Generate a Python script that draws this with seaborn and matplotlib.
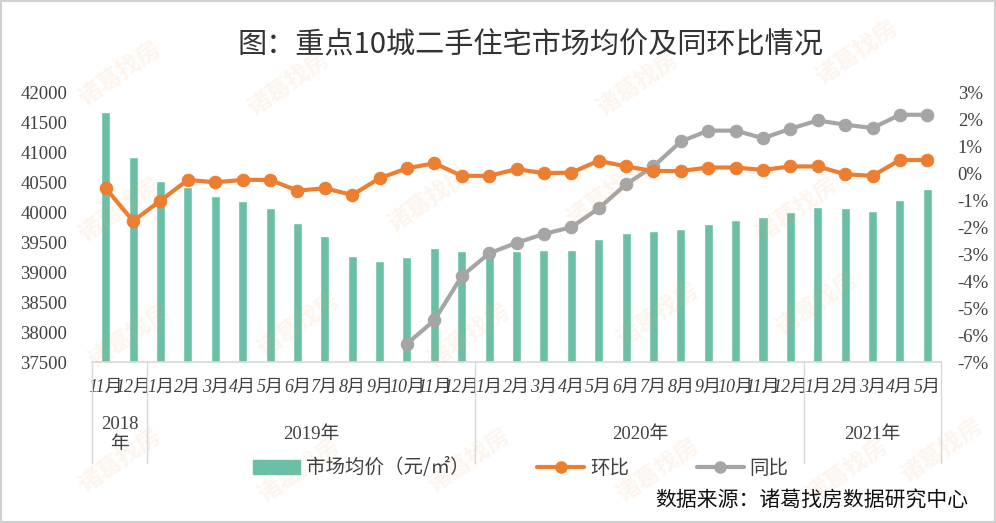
import numpy as np
import pandas as pd
import matplotlib
matplotlib.use("Agg")
import matplotlib.pyplot as plt
import seaborn as sns

# ---------------- data ----------------
months = ["11月", "12月",
          "1月", "2月", "3月", "4月", "5月", "6月", "7月", "8月", "9月", "10月", "11月", "12月",
          "1月", "2月", "3月", "4月", "5月", "6月", "7月", "8月", "9月", "10月", "11月", "12月",
          "1月", "2月", "3月", "4月", "5月"]
year_labels = ["2018\n年", "2019年", "2020年", "2021年"]
year_counts = [2, 12, 12, 5]

price = [41690, 40935, 40535, 40425, 40285, 40185, 40080, 39830, 39615, 39280, 39195, 39265,
         39415, 39365, 39380, 39365, 39375, 39375, 39550, 39660, 39695, 39725, 39810, 39875,
         39930, 40010, 40100, 40080, 40025, 40215, 40395]
mom = [-0.54, -1.76, -1.00, -0.23, -0.32, -0.23, -0.23, -0.63, -0.54, -0.79, -0.17, 0.20,
       0.39, -0.08, -0.08, 0.17, 0.02, 0.04, 0.48, 0.27, 0.10, 0.10, 0.23, 0.23,
       0.14, 0.27, 0.27, -0.02, -0.08, 0.51, 0.51]
yoy = [np.nan] * 11 + [-6.32, -5.45, -3.81, -2.96, -2.57, -2.24, -1.99, -1.29, -0.39, 0.27,
                       1.20, 1.60, 1.60, 1.32, 1.67, 1.98, 1.82, 1.70, 2.19, 2.19]

title = "图：重点10城二手住宅市场均价及同环比情况"
source = "数据来源：诸葛找房数据研究中心"
legend_labels = ["市场均价（元/㎡）", "环比", "同比"]

# ---------------- style ----------------
sns.set_theme(style="white")
plt.rcParams["font.family"] = ["Liberation Serif", "Noto Sans CJK SC", "DejaVu Sans"]
plt.rcParams["axes.unicode_minus"] = False

BAR = "#6BBFA7"
ORANGE = "#ED7D31"
GRAY = "#A5A5A5"
TXT = "#404040"

df = pd.DataFrame({"idx": np.arange(len(price)), "month": months,
                   "price": price, "mom": mom, "yoy": yoy})

fig = plt.figure(figsize=(9.96, 5.23), dpi=100)
fig.patch.set_facecolor("white")
ax = fig.add_axes([0.0924, 0.3078, 0.8524, 0.5144])

# watermarks
wm_pos = [(0.12, 0.86), (0.29, 0.84), (0.64, 0.84), (0.86, 0.90),
          (0.12, 0.60), (0.43, 0.62), (0.61, 0.63), (0.80, 0.60),
          (0.13, 0.36), (0.30, 0.38), (0.47, 0.36), (0.66, 0.40), (0.82, 0.42),
          (0.12, 0.12), (0.30, 0.10), (0.47, 0.12), (0.66, 0.10), (0.85, 0.10), (0.945, 0.14)]
for (wx, wy) in wm_pos:
    fig.text(wx, wy, "诸葛找房", fontsize=17, color="#F4A460", alpha=0.11,
             rotation=35, ha="center", va="center", family=["Noto Sans CJK SC"],
             fontweight="bold", zorder=0)

sns.barplot(data=df, x="idx", y="price", ax=ax, color=BAR, width=0.33,
            saturation=1, native_scale=True, zorder=2)
ax.set_ylim(37500, 42000)
ax.set_yticks(np.arange(37500, 42001, 500))
ax.set_xlim(-0.5, len(price) - 0.5)
ax.set_xlabel("")
ax.set_ylabel("")
ax.set_facecolor("none")
for s in ["top", "left", "right"]:
    ax.spines[s].set_visible(False)
ax.spines["bottom"].set_color("#D9D9D9")
ax.tick_params(axis="y", labelsize=13.5, colors=TXT, length=0, pad=18)
ax.set_xticks(df["idx"])
ax.set_xticklabels(months, fontsize=13, color=TXT, style="italic")
ax.tick_params(axis="x", length=0, pad=12)

ax2 = ax.twinx()
sns.lineplot(data=df, x="idx", y="mom", ax=ax2, color=ORANGE, linewidth=3,
             marker="o", markersize=9, markeredgecolor=ORANGE, zorder=4)
sns.lineplot(data=df, x="idx", y="yoy", ax=ax2, color=GRAY, linewidth=3,
             marker="o", markersize=9, markeredgecolor=GRAY, zorder=3)
ax2.set_ylim(-7, 3)
ax2.set_yticks(np.arange(-7, 3.1, 1))
ax2.set_yticklabels([f"{v:.0f}%" for v in np.arange(-7, 3.1, 1)])
ax2.tick_params(axis="y", labelsize=13.5, colors=TXT, length=0, pad=12)
ax2.set_xlabel("")
ax2.set_ylabel("")
for s in ["top", "left", "right", "bottom"]:
    ax2.spines[s].set_visible(False)
ax2.set_xlim(-0.5, len(price) - 0.5)

# group table below x axis
tr = ax.get_xaxis_transform()
bounds = np.concatenate([[0], np.cumsum(year_counts)]) - 0.5
for b in bounds:
    ax.plot([b, b], [0, -0.375], transform=tr, color="#D9D9D9", lw=1, clip_on=False)
for i, lab in enumerate(year_labels):
    cx = (bounds[i] + bounds[i + 1]) / 2
    ax.text(cx, -0.27, lab, transform=tr, ha="center", va="center",
            fontsize=13.5, color=TXT, linespacing=1.25)

# legend
handles = [plt.Rectangle((0, 0), 1, 1, color=BAR),
           plt.Line2D([], [], color=ORANGE, lw=3, marker="o", markersize=8),
           plt.Line2D([], [], color=GRAY, lw=3, marker="o", markersize=8)]
leg = fig.legend(handles, legend_labels, loc="center", bbox_to_anchor=(0.523, 1 - 468 / 523),
                 ncol=3, frameon=False, columnspacing=3.5, handlelength=2.4,
                 handletextpad=0.3, prop={"family": ["Noto Sans CJK SC"], "size": 14})
for t in leg.get_texts():
    t.set_color(TXT)

fig.text(0.533, 1 - 45 / 523, title, ha="center", va="center", fontsize=21,
         color="#333333", family=["Noto Sans CJK SC"], fontweight="medium")
fig.text(0.972, 1 - 500 / 523, source, ha="right", va="center", fontsize=15,
         color="#111111", family=["Noto Sans CJK SC"], style="italic")

# light frame
fig.add_artist(plt.Rectangle((0, 0), 1, 1, transform=fig.transFigure, fill=False,
                             edgecolor="#D0D0D0", lw=3))

fig.savefig("out.png", dpi=100)
